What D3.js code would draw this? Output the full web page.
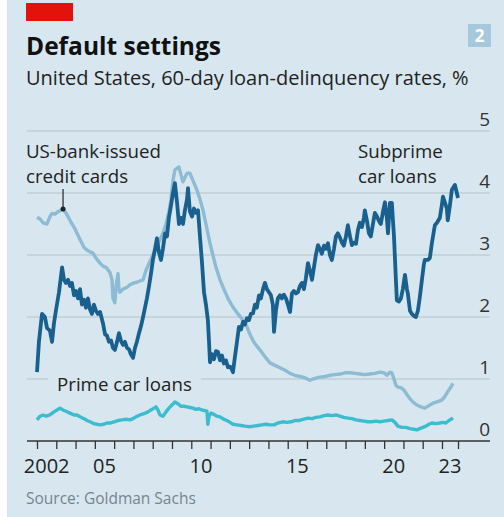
<!DOCTYPE html>
<html>
<head>
<meta charset="utf-8">
<script src="https://cdn.jsdelivr.net/npm/d3@7"></script>
<style>
  html, body { margin: 0; padding: 0; background: #ffffff; }
  svg { display: block; font-family: "Open Sans", "Noto Sans", sans-serif; }
</style>
</head>
<body>
<svg id="chart" width="504" height="517"></svg>
<script>
// 60-day delinquency rates, %, by decimal year
const subprimeYears = [2002.00,2002.10,2002.26,2002.41,2002.52,2002.67,2002.78,2002.88,2002.98,2003.14,2003.30,2003.40,2003.50,2003.61,2003.71,2003.81,2003.92,2004.02,2004.13,2004.23,2004.33,2004.44,2004.54,2004.64,2004.75,2004.85,2004.95,2005.06,2005.16,2005.27,2005.42,2005.53,2005.63,2005.73,2005.84,2005.94,2006.04,2006.15,2006.25,2006.35,2006.46,2006.56,2006.67,2006.77,2006.87,2006.98,2007.08,2007.18,2007.29,2007.39,2007.50,2007.60,2007.70,2007.81,2007.91,2008.01,2008.12,2008.22,2008.32,2008.43,2008.53,2008.64,2008.74,2008.84,2008.95,2009.05,2009.15,2009.26,2009.36,2009.46,2009.57,2009.67,2009.78,2009.83,2009.93,2010.04,2010.14,2010.24,2010.35,2010.45,2010.55,2010.66,2010.76,2010.86,2010.92,2010.97,2011.07,2011.18,2011.28,2011.38,2011.49,2011.59,2011.69,2011.80,2011.90,2012.01,2012.11,2012.16,2012.26,2012.37,2012.47,2012.58,2012.68,2012.78,2012.89,2012.99,2013.09,2013.20,2013.30,2013.40,2013.51,2013.61,2013.72,2013.82,2013.92,2014.03,2014.13,2014.23,2014.29,2014.39,2014.49,2014.60,2014.70,2014.80,2014.91,2015.01,2015.12,2015.22,2015.32,2015.43,2015.53,2015.63,2015.74,2015.84,2015.94,2016.05,2016.15,2016.26,2016.36,2016.46,2016.57,2016.67,2016.77,2016.88,2016.98,2017.09,2017.19,2017.29,2017.40,2017.50,2017.60,2017.71,2017.81,2017.91,2018.02,2018.12,2018.23,2018.33,2018.43,2018.54,2018.64,2018.74,2018.85,2018.95,2019.00,2019.11,2019.21,2019.31,2019.42,2019.52,2019.63,2019.73,2019.83,2019.94,2020.04,2020.14,2020.20,2020.30,2020.40,2020.51,2020.61,2020.66,2020.77,2020.87,2020.97,2021.08,2021.18,2021.23,2021.34,2021.44,2021.54,2021.65,2021.75,2021.85,2021.96,2022.06,2022.11,2022.27,2022.37,2022.48,2022.63,2022.74,2022.89,2022.99,2023.05,2023.15,2023.25,2023.30,2023.41,2023.51,2023.61,2023.67,2023.77,2023.83];
const subprimeRates = [1.11,1.6,2.05,2.0,1.82,1.78,1.6,1.9,2.1,2.4,2.8,2.6,2.55,2.6,2.5,2.55,2.35,2.42,2.3,2.45,2.2,2.28,2.15,2.3,2.12,2.05,2.2,2.1,2.05,2.08,1.9,1.72,1.7,1.6,1.62,1.5,1.47,1.6,1.74,1.62,1.55,1.6,1.5,1.48,1.4,1.34,1.5,1.6,1.74,1.85,2.0,2.15,2.3,2.5,2.7,2.92,3.1,3.27,3.05,2.92,3.1,3.35,3.3,3.6,3.8,4.0,4.16,3.85,3.5,3.6,3.5,3.72,3.9,4.08,3.7,3.62,3.75,3.68,3.72,3.3,2.9,2.4,2.2,1.95,1.6,1.27,1.4,1.32,1.45,1.44,1.3,1.38,1.25,1.3,1.19,1.2,1.15,1.11,1.35,1.6,1.84,1.8,1.92,1.88,1.98,1.95,2.05,2.06,2.2,2.15,2.35,2.3,2.45,2.55,2.45,2.4,2.35,2.2,1.76,2.1,2.3,2.35,2.3,2.36,2.3,2.2,2.08,2.38,2.42,2.38,2.4,2.5,2.55,2.45,2.62,2.87,2.75,2.6,2.8,3.0,3.16,3.1,3.02,3.15,3.1,3.19,3.0,2.92,3.1,3.3,3.35,3.28,3.2,3.15,3.3,3.48,3.3,3.16,3.2,3.18,3.4,3.52,3.45,3.6,3.72,3.55,3.35,3.3,3.5,3.68,3.62,3.55,3.5,3.7,3.85,3.6,3.35,3.84,3.84,3.3,2.6,2.27,2.25,2.3,2.45,2.68,2.45,2.38,2.1,2.05,2.02,2.0,2.1,2.32,2.6,2.85,2.92,2.92,2.95,3.2,3.48,3.52,3.6,3.8,3.94,3.85,3.75,3.56,3.8,4.05,4.1,4.13,4.0,3.92];

const cardYears = [2002.00,2002.16,2002.31,2002.52,2002.67,2002.78,2002.93,2003.09,2003.24,2003.35,2003.50,2003.71,2003.97,2004.23,2004.44,2004.59,2004.75,2004.90,2005.06,2005.27,2005.42,2005.58,2005.68,2005.78,2005.89,2005.94,2006.04,2006.10,2006.20,2006.25,2006.30,2006.46,2006.67,2006.82,2007.03,2007.18,2007.34,2007.50,2007.65,2007.86,2008.01,2008.17,2008.38,2008.53,2008.69,2008.84,2008.95,2009.05,2009.15,2009.26,2009.36,2009.46,2009.57,2009.67,2009.78,2009.93,2010.09,2010.29,2010.45,2010.61,2010.76,2010.86,2010.97,2011.12,2011.28,2011.49,2011.69,2011.90,2012.16,2012.42,2012.68,2012.89,2013.04,2013.20,2013.35,2013.56,2013.82,2014.08,2014.34,2014.60,2014.86,2015.12,2015.37,2015.63,2015.89,2016.15,2016.31,2016.52,2016.67,2016.93,2017.19,2017.45,2017.71,2017.97,2018.23,2018.49,2018.74,2019.00,2019.26,2019.52,2019.78,2019.99,2020.14,2020.30,2020.40,2020.51,2020.61,2020.71,2020.87,2021.03,2021.18,2021.34,2021.49,2021.70,2021.91,2022.11,2022.32,2022.53,2022.74,2022.99,2023.15,2023.31,2023.46,2023.57];
const cardRates = [3.61,3.58,3.52,3.5,3.62,3.67,3.66,3.7,3.72,3.74,3.68,3.56,3.42,3.25,3.12,3.08,3.05,3.03,2.95,2.87,2.82,2.8,2.76,2.72,2.6,2.3,2.23,2.5,2.7,2.45,2.4,2.45,2.48,2.52,2.55,2.56,2.58,2.6,2.75,2.9,3.0,3.1,3.25,3.35,3.5,3.7,3.9,4.2,4.37,4.4,4.42,4.3,4.18,4.25,4.32,4.32,4.2,4.05,3.9,3.72,3.5,3.35,3.19,3.0,2.8,2.6,2.45,2.3,2.16,2.05,1.95,1.84,1.72,1.62,1.55,1.47,1.36,1.26,1.22,1.18,1.14,1.09,1.06,1.04,1.02,0.98,1.0,1.02,1.03,1.04,1.06,1.07,1.08,1.1,1.1,1.09,1.08,1.07,1.08,1.09,1.11,1.1,1.06,1.11,1.1,1.0,0.9,0.87,0.86,0.82,0.75,0.68,0.63,0.58,0.55,0.53,0.57,0.61,0.63,0.66,0.72,0.8,0.87,0.93];

const primeYears = [2002.00,2002.16,2002.31,2002.47,2002.67,2002.88,2003.04,2003.19,2003.35,2003.50,2003.71,2003.92,2004.07,2004.23,2004.44,2004.59,2004.75,2004.95,2005.11,2005.27,2005.47,2005.63,2005.78,2005.99,2006.20,2006.41,2006.61,2006.82,2006.98,2007.13,2007.34,2007.55,2007.75,2007.91,2008.07,2008.17,2008.27,2008.38,2008.53,2008.69,2008.84,2009.00,2009.15,2009.31,2009.46,2009.62,2009.78,2009.93,2010.09,2010.24,2010.40,2010.55,2010.71,2010.81,2010.86,2010.92,2011.02,2011.18,2011.33,2011.49,2011.69,2011.85,2012.01,2012.16,2012.37,2012.58,2012.78,2013.04,2013.25,2013.46,2013.66,2013.87,2014.08,2014.29,2014.49,2014.75,2014.96,2015.17,2015.37,2015.58,2015.79,2016.05,2016.26,2016.46,2016.67,2016.88,2017.09,2017.29,2017.50,2017.71,2017.91,2018.12,2018.33,2018.54,2018.74,2018.95,2019.16,2019.37,2019.57,2019.78,2019.99,2020.20,2020.40,2020.56,2020.71,2020.92,2021.13,2021.34,2021.54,2021.70,2021.85,2022.01,2022.17,2022.32,2022.48,2022.68,2022.89,2023.05,2023.20,2023.36,2023.57];
const primeRates = [0.34,0.4,0.42,0.4,0.42,0.47,0.5,0.53,0.5,0.48,0.45,0.42,0.42,0.39,0.36,0.33,0.31,0.28,0.27,0.26,0.27,0.29,0.29,0.31,0.33,0.34,0.35,0.34,0.36,0.39,0.42,0.44,0.47,0.5,0.53,0.55,0.5,0.42,0.4,0.47,0.53,0.58,0.63,0.6,0.56,0.56,0.55,0.54,0.53,0.51,0.52,0.5,0.49,0.48,0.27,0.4,0.45,0.43,0.4,0.39,0.35,0.33,0.3,0.27,0.26,0.25,0.24,0.23,0.24,0.25,0.26,0.27,0.26,0.26,0.29,0.31,0.3,0.31,0.33,0.33,0.35,0.37,0.36,0.38,0.39,0.41,0.42,0.41,0.42,0.4,0.38,0.37,0.36,0.34,0.33,0.32,0.31,0.31,0.32,0.31,0.32,0.33,0.34,0.3,0.24,0.22,0.22,0.2,0.19,0.18,0.2,0.22,0.24,0.27,0.29,0.28,0.29,0.3,0.29,0.33,0.37];

const yTicks = [0, 1, 2, 3, 4, 5];
const xTickYears = [2002,2003,2004,2005,2006,2007,2008,2009,2010,2011,2012,2013,2014,2015,2016,2017,2018,2019,2020,2021,2022,2023];
const xLabelYears = [2002, 2005, 2010, 2015, 2020, 2023];
const xLabelText = ["2002", "05", "10", "15", "20", "23"];
const dataEnd = 2023.83;

const svg = d3.select("#chart");
const W = 504, H = 517;

const colBg = "#d8e7ef";
const colSub = "#19608f";
const colCard = "#8dbbd3";
const colPrime = "#3bbccf";

// panel
svg.append("rect").attr("x", 7).attr("y", 0).attr("width", W - 7).attr("height", H).attr("fill", colBg);
svg.append("rect").attr("x", 26).attr("y", 3).attr("width", 47).attr("height", 18).attr("fill", "#e3120b");

// badge
svg.append("rect").attr("x", 468).attr("y", 24).attr("width", 23).attr("height", 23).attr("fill", "#a6c8dc");
svg.append("text").attr("x", 479.5).attr("y", 42).attr("text-anchor", "middle")
  .attr("fill", "#ffffff").attr("font-weight", 700).attr("font-size", 17).text("2");

svg.append("text").attr("x", 26).attr("y", 55).attr("font-weight", 700).attr("font-size", 24.5)
  .attr("fill", "#111").text("Default settings");
svg.append("text").attr("x", 26).attr("y", 85).attr("font-size", 20)
  .attr("fill", "#222").text("United States, 60-day loan-delinquency rates, %");

const x = d3.scaleLinear().domain([2002, dataEnd]).range([37, 458]);
const y = d3.scaleLinear().domain([0, 5]).range([441, 131]);

// gridlines
const grid = svg.append("g");
grid.selectAll("line").data(yTicks.filter(d => d > 0)).join("line")
  .attr("x1", 27).attr("x2", 490)
  .attr("y1", d => y(d)).attr("y2", d => y(d))
  .attr("stroke", "#b3c2ca").attr("stroke-width", 1.2);

// y labels on the right, sitting on the gridlines
svg.append("g").selectAll("text").data(yTicks).join("text")
  .attr("x", 490).attr("y", d => y(d) - 5)
  .attr("text-anchor", "end").attr("font-size", 19).attr("fill", "#333")
  .text(d => d);

// x axis
const xAxis = d3.axisBottom(x)
  .tickValues(xTickYears.concat([dataEnd]))
  .tickSize(8).tickFormat("");
const gx = svg.append("g").attr("transform", `translate(0,${y(0)})`).call(xAxis);
gx.select(".domain").attr("d", `M27,0H490`).attr("stroke", "#333").attr("stroke-width", 1.3);
gx.selectAll(".tick line").attr("stroke", "#333").attr("stroke-width", 1.3);

svg.append("g").selectAll("text").data(xLabelYears).join("text")
  .attr("x", (d, i) => i === xLabelYears.length - 1 ? (x(d) + x(dataEnd)) / 2 : (x(d) + x(d + 1)) / 2)
  .attr("y", 473).attr("text-anchor", "middle").attr("font-size", 20).attr("fill", "#222")
  .text((d, i) => xLabelText[i]);

// lines
const line = d3.line().x(d => x(d[0])).y(d => y(d[1]));
const zip = (a, b) => a.map((v, i) => [v, b[i]]);

svg.append("path").datum(zip(cardYears, cardRates)).attr("d", line)
  .attr("fill", "none").attr("stroke", colCard).attr("stroke-width", 3.4).attr("stroke-linejoin", "round");
svg.append("path").datum(zip(primeYears, primeRates)).attr("d", line)
  .attr("fill", "none").attr("stroke", colPrime).attr("stroke-width", 3.4).attr("stroke-linejoin", "round");
svg.append("path").datum(zip(subprimeYears, subprimeRates)).attr("d", line)
  .attr("fill", "none").attr("stroke", colSub).attr("stroke-width", 3.8).attr("stroke-linejoin", "round");

// annotations
const ann = svg.append("g").attr("font-size", 18.7).attr("fill", "#222");
ann.append("text").attr("x", 26).attr("y", 158).text("US-bank-issued");
ann.append("text").attr("x", 26).attr("y", 183).text("credit cards");
const pointer = cardYears.indexOf(2003.35);
svg.append("line").attr("x1", x(cardYears[pointer])).attr("x2", x(cardYears[pointer]))
  .attr("y1", 189).attr("y2", y(cardRates[pointer])).attr("stroke", "#222").attr("stroke-width", 1.2);
svg.append("circle").attr("cx", x(cardYears[pointer])).attr("cy", y(cardRates[pointer])).attr("r", 2.5).attr("fill", "#222");

ann.append("text").attr("x", 358).attr("y", 158).text("Subprime");
ann.append("text").attr("x", 358).attr("y", 183).text("car loans");

const primeLabel = ann.append("text").attr("x", 57).attr("y", 391).text("Prime car loans");
const bb = primeLabel.node().getBBox();
ann.insert("rect", "text").attr("x", bb.x - 9).attr("y", y(1) - 2).attr("width", bb.width + 18).attr("height", 4).attr("fill", colBg);

svg.append("text").attr("x", 26).attr("y", 504).attr("font-size", 15.5).attr("fill", "#74858f")
  .text("Source: Goldman Sachs");
</script>
</body>
</html>
